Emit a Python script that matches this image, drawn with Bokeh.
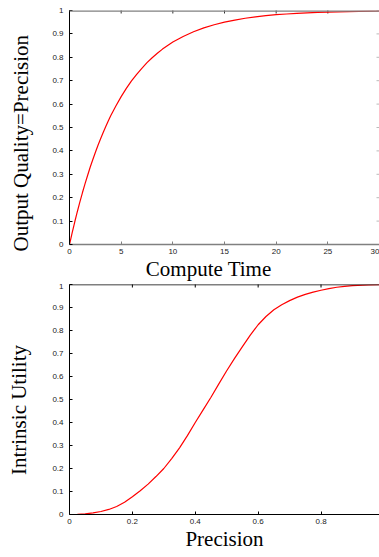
import math
from bokeh.plotting import figure
from bokeh.models import FixedTicker, Range1d, Span
from bokeh.layouts import column
from bokeh.embed import file_html
from bokeh.resources import INLINE

# ---- data ----
compute_time = [0, 0.25, 0.5, 0.75, 1, 1.25, 1.5, 1.75, 2, 2.25, 2.5, 2.75, 3, 3.25, 3.5,
                3.75, 4, 4.5, 5, 5.5, 6, 6.5, 7, 7.5, 8, 8.5, 9, 9.5, 10, 11, 12, 13, 14,
                15, 16, 17, 18, 19, 20, 21, 22, 23, 24, 25, 26, 27, 28, 29, 30]
output_quality = [0, 0.049, 0.095, 0.139, 0.181, 0.221, 0.259, 0.295, 0.330, 0.362, 0.393,
                  0.423, 0.451, 0.478, 0.503, 0.528, 0.551, 0.593, 0.632, 0.667, 0.699,
                  0.727, 0.753, 0.777, 0.798, 0.817, 0.835, 0.850, 0.865, 0.889, 0.909,
                  0.926, 0.939, 0.950, 0.959, 0.967, 0.973, 0.978, 0.982, 0.985, 0.988,
                  0.990, 0.992, 0.993, 0.994, 0.995, 0.996, 0.997, 0.998]

precision = [0, 0.025, 0.05, 0.075, 0.1, 0.125, 0.15, 0.175, 0.2, 0.225, 0.25, 0.275, 0.3,
             0.325, 0.35, 0.375, 0.4, 0.425, 0.45, 0.475, 0.5, 0.525, 0.55, 0.575, 0.6,
             0.625, 0.65, 0.675, 0.7, 0.725, 0.75, 0.775, 0.8, 0.825, 0.85, 0.875, 0.9,
             0.95, 1.0]
intrinsic_utility = [0, 0.001, 0.003, 0.007, 0.013, 0.022, 0.035, 0.053, 0.077, 0.103,
                     0.132, 0.165, 0.20, 0.243, 0.29, 0.343, 0.40, 0.455, 0.51, 0.568,
                     0.625, 0.679, 0.73, 0.78, 0.825, 0.861, 0.89, 0.912, 0.93, 0.945,
                     0.957, 0.967, 0.975, 0.982, 0.988, 0.992, 0.995, 0.998, 1.0]

top_x_ticks = [0, 5, 10, 15, 20, 25, 30]
bot_x_ticks = [0, 0.2, 0.4, 0.6, 0.8]
bot_x_labels = ["0", "0.2", "0.4", "0.6", "0.8"]
y_ticks = [0, 0.1, 0.2, 0.3, 0.4, 0.5, 0.6, 0.7, 0.8, 0.9, 1]
y_labels = ["0", "0.1", "0.2", "0.3", "0.4", "0.5", "0.6", "0.7", "0.8", "0.9", "1"]

TICK_FONT = "Liberation Sans"
LABEL_FONT = "Liberation Serif"
NB = "\u00a0"


def style_axis(ax, line_color="black"):
    ax.major_tick_in = 3
    ax.major_tick_out = 0
    ax.minor_tick_line_color = None
    ax.axis_line_color = line_color
    ax.major_tick_line_color = line_color
    ax.major_label_text_font = TICK_FONT
    ax.major_label_text_font_size = "8px"
    ax.major_label_text_color = "#222222"
    ax.axis_label_text_font = LABEL_FONT
    ax.axis_label_text_font_size = "21px"
    ax.axis_label_text_font_style = "normal"
    ax.axis_label_text_color = "black"


def make_fig(x_end, frame_h, top_border, xlabel, ylabel):
    p = figure(output_backend="svg", toolbar_location=None,
               frame_width=310, frame_height=frame_h,
               x_range=Range1d(0, x_end), y_range=Range1d(0, 1),
               min_border_left=69, min_border_right=0,
               min_border_top=top_border, min_border_bottom=0,
               x_axis_label=xlabel, y_axis_label=ylabel)
    p.grid.visible = False
    p.outline_line_color = None
    p.background_fill_color = "white"
    p.border_fill_color = "white"
    return p


# ---- top chart ----
p1 = make_fig(30, 234, 10, "Compute Time" + NB * 6, "Output Quality=Precision" + NB * 6)
p1.xaxis.ticker = FixedTicker(ticks=top_x_ticks)
p1.yaxis.ticker = FixedTicker(ticks=y_ticks)
p1.yaxis.major_label_overrides = dict(zip(y_ticks, y_labels))
style_axis(p1.xaxis[0], "#808080")
p1.xaxis.axis_line_width = 1.5
p1.xaxis.major_label_standoff = 4
p1.xaxis.axis_label_standoff = 0
style_axis(p1.yaxis[0], "black")
p1.yaxis.major_label_standoff = 6
p1.yaxis.axis_label_standoff = 16
p1.add_layout(Span(location=1, dimension="width", line_color="#808080", line_width=2.5))
p1.scatter(top_x_ticks, [1] * len(top_x_ticks), marker="dash", angle=math.pi / 2,
           size=6, line_color="#333333", line_width=1)
p1.scatter([30] * len(y_ticks), y_ticks, marker="dash", size=6,
           line_color="#bbbbbb", line_width=1)
p1.line(compute_time, output_quality, line_color="red", line_width=1.2)

# ---- bottom chart ----
p2 = make_fig(0.986, 230, 1, "Precision", "Intrinsic Utility" + NB * 4)
p2.xaxis.ticker = FixedTicker(ticks=bot_x_ticks)
p2.xaxis.major_label_overrides = dict(zip(bot_x_ticks, bot_x_labels))
p2.yaxis.ticker = FixedTicker(ticks=y_ticks)
p2.yaxis.major_label_overrides = dict(zip(y_ticks, y_labels))
style_axis(p2.xaxis[0], "black")
p2.xaxis.major_label_standoff = 4
p2.xaxis.axis_label_standoff = 0
style_axis(p2.yaxis[0], "black")
p2.yaxis.major_label_standoff = 6
p2.yaxis.axis_label_standoff = 18
p2.add_layout(Span(location=1, dimension="width", line_color="black", line_width=1.5))
p2.scatter(bot_x_ticks, [1] * len(bot_x_ticks), marker="dash", angle=math.pi / 2,
           size=6, line_color="black", line_width=1)
p2.line(precision, intrinsic_utility, line_color="red", line_width=1.2)

layout = column(p1, p2, spacing=0)
open("out.html", "w").write(file_html(layout, INLINE))
